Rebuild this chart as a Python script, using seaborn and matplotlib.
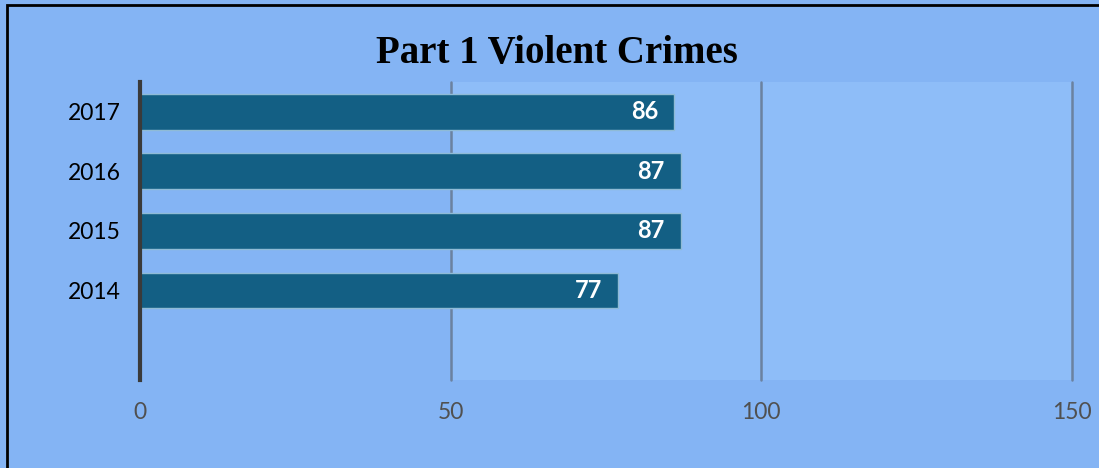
import seaborn as sns
import matplotlib.pyplot as plt
import matplotlib.patches as mpatches
import pandas as pd

years = ["2017", "2016", "2015", "2014"]
crimes = [86, 87, 87, 77]
xticks = [0, 50, 100, 150]

data = pd.DataFrame({"year": years, "crimes": crimes})

sns.set_style("white")
plt.rcParams["font.family"] = ["Lato", "DejaVu Sans"]

bg = "#84b4f4"
fig = plt.figure(figsize=(10.99, 4.68), dpi=100, facecolor=bg)
ax = fig.add_axes([0.1274, 0.188, 0.848, 0.637])
ax.set_facecolor("none")

# solid plot area (only drawn right of the 50 gridline in the original)
ax.axvspan(50, 150, color="#8ebdf8", zorder=0)

sns.barplot(data=data, x="crimes", y="year", orient="h", color="#135f84",
            width=0.6, edgecolor="#8fbbd6", linewidth=1, saturation=1, ax=ax)

for i, v in enumerate(crimes):
    ax.text(v - 2.6, i, str(v), ha="right", va="center", color="white",
            fontsize=17, fontweight="bold")

ax.set_xlim(0, 150)
ax.set_ylim(4.5, -0.5)
ax.set_xticks(xticks)
ax.set_xticklabels([str(t) for t in xticks], fontsize=16.5, color="#505050")
ax.tick_params(axis="y", labelsize=16.5, labelcolor="black", length=0, pad=14)
ax.tick_params(axis="x", length=0, pad=16)
ax.set_xlabel("")
ax.set_ylabel("")
ax.xaxis.grid(True, color="#6b82a0", linewidth=1.8)
for gl in ax.get_xgridlines():
    gl.set_clip_on(False)
ax.set_axisbelow(True)
for s in ["top", "right", "bottom"]:
    ax.spines[s].set_visible(False)
ax.spines["left"].set_color("#3a3a3a")
ax.spines["left"].set_linewidth(3)
ax.spines["left"].set_zorder(5)

fig.text(0.507, 0.886, "Part 1 Violent Crimes", ha="center", va="center",
         fontsize=28, fontweight="bold", color="black",
         family=["Liberation Serif", "DejaVu Serif"])

# outer frame
fig.patches.append(mpatches.Rectangle((7 / 1099, -0.05), 1.1, 1 - 5 / 468 + 0.05,
                                      transform=fig.transFigure, fill=False,
                                      edgecolor="black", linewidth=2))

plt.savefig("out.png", dpi=100, facecolor=bg)
